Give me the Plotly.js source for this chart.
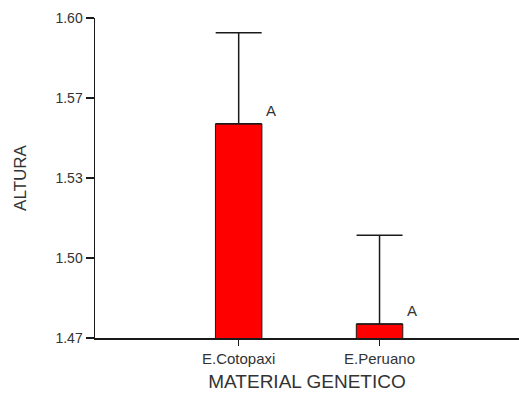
<!DOCTYPE html>
<html>
<head>
<meta charset="utf-8">
<script src="https://cdn.plot.ly/plotly-3.0.1.min.js"></script>
<style>
  html, body { margin: 0; padding: 0; background: #fff; }
  #chart { width: 519px; height: 416px; }
</style>
</head>
<body>
<div id="chart"></div>
<script>
// Mean plant height by genetic material, with upper error bars
const categories = ['E.Cotopaxi', 'E.Peruano'];
const meanHeight = [1.557, 1.4757];
const errorUpper = [0.037, 0.036];
const groupLetters = ['A', 'A'];
const yTickLabels = ['1.47', '1.50', '1.53', '1.57', '1.60'];

const yMin = 1.47, yMax = 1.60;
const yTickVals = yTickLabels.map((_, i) => yMin + i * (yMax - yMin) / (yTickLabels.length - 1));

const ink = '#1a1a1a';
const textColor = '#333333';
const font = 'Liberation Sans, Arial, sans-serif';

const trace = {
  type: 'bar',
  x: [0, 1],
  y: meanHeight,
  width: 0.33,
  marker: { color: '#ff0000', line: { color: ink, width: 1 } },
  error_y: {
    type: 'data',
    symmetric: false,
    array: errorUpper,
    arrayminus: errorUpper.map(() => 0),
    color: ink,
    thickness: 1.5,
    width: 23
  },
  hoverinfo: 'skip'
};

const annotations = groupLetters.map((t, i) => ({
  x: i + 0.23,
  y: meanHeight[i],
  xref: 'x', yref: 'y',
  text: t,
  showarrow: false,
  yshift: 13,
  font: { family: font, size: 15, color: textColor }
}));

const layout = {
  width: 519,
  height: 416,
  margin: { l: 95, r: 0, t: 18, b: 78, pad: 0 },
  paper_bgcolor: '#ffffff',
  plot_bgcolor: '#ffffff',
  showlegend: false,
  font: { family: font, size: 12, color: textColor },
  xaxis: {
    range: [-1.02, 1.99],
    tickvals: [0, 1],
    ticktext: categories,
    ticks: 'outside',
    ticklen: 6,
    tickwidth: 1.5,
    tickcolor: ink,
    showline: true,
    linecolor: ink,
    linewidth: 1.5,
    showgrid: false,
    zeroline: false,
    tickfont: { family: font, size: 15, color: textColor },
    title: { text: 'MATERIAL GENETICO', font: { family: font, size: 19, color: textColor }, standoff: 9 }
  },
  yaxis: {
    range: [yMin, yMax],
    tickvals: yTickVals,
    ticktext: yTickLabels,
    ticks: 'outside',
    ticklen: 8,
    tickwidth: 1.5,
    tickcolor: ink,
    showline: true,
    linecolor: ink,
    linewidth: 1.5,
    showgrid: false,
    zeroline: false,
    tickfont: { family: font, size: 14, color: textColor },
    title: { text: 'ALTURA', font: { family: font, size: 17, color: textColor }, standoff: 24 }
  },
  annotations: annotations
};

Plotly.newPlot('chart', [trace], layout, { staticPlot: true, displayModeBar: false });
</script>
</body>
</html>
